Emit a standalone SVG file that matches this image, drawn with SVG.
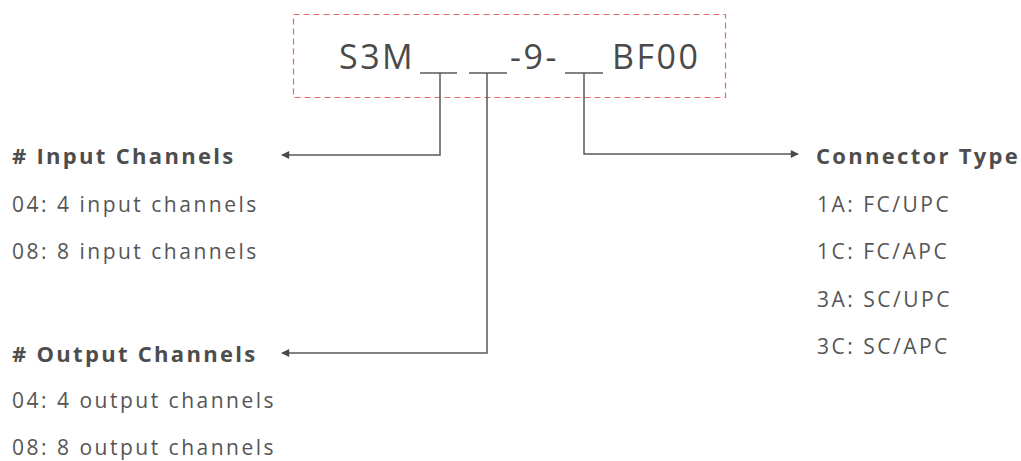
<svg xmlns="http://www.w3.org/2000/svg" width="1021" height="461" viewBox="0 0 1021 461">
<defs>
<style>
.title{font-family:"Open Sans","Liberation Sans",sans-serif;font-size:34px;fill:#4a4a4a;letter-spacing:2.5px}
.head{font-family:"Open Sans","Liberation Sans",sans-serif;font-size:22px;font-weight:bold;fill:#4d4d4d;letter-spacing:2.3px}
.item{font-family:"Open Sans","Liberation Sans",sans-serif;font-size:21px;fill:#555555;letter-spacing:2.5px}
.conn{fill:none;stroke:#5a5a5a;stroke-width:1.5}
.us{stroke:#5a5a5a;stroke-width:1.5}
</style>
<marker id="arr" viewBox="0 0 10 10" refX="9" refY="5" markerWidth="9" markerHeight="8" markerUnits="userSpaceOnUse" orient="auto">
<path d="M0,0 L10,5 L0,10 Z" fill="#4a4a4a"/>
</marker>
</defs>
<g id="code">
<rect x="293.5" y="14.5" width="432" height="83" fill="none" stroke="#e26a6a" stroke-width="1.2" stroke-dasharray="6,4"/>
<text class="title" x="339" y="69">S3M</text>
<line class="us" x1="420" y1="73" x2="457" y2="73"/>
<line class="us" x1="469" y1="73" x2="507" y2="73"/>
<text class="title" x="510" y="69">-9-</text>
<line class="us" x1="565" y1="73" x2="603" y2="73"/>
<text class="title" x="612" y="69">BF00</text>
</g>
<g id="connectors">
<path class="conn" d="M440,73 V155 H282" marker-end="url(#arr)"/>
<path class="conn" d="M487,73 V353 H282" marker-end="url(#arr)"/>
<path class="conn" d="M584,73 V154 H798" marker-end="url(#arr)"/>
</g>
<g id="input">
<text class="head" x="12" y="164"># Input Channels</text>
<text class="item" x="12" y="211.5">04: 4 input channels</text>
<text class="item" x="12" y="259">08: 8 input channels</text>
</g>
<g id="output">
<text class="head" x="12" y="361.5"># Output Channels</text>
<text class="item" x="12" y="408">04: 4 output channels</text>
<text class="item" x="12" y="454.5">08: 8 output channels</text>
</g>
<g id="connector-type">
<text class="head" x="816" y="164">Connector Type</text>
<text class="item" x="817" y="211.5">1A: FC/UPC</text>
<text class="item" x="817" y="259">1C: FC/APC</text>
<text class="item" x="817" y="306.5">3A: SC/UPC</text>
<text class="item" x="817" y="354">3C: SC/APC</text>
</g>
</svg>
